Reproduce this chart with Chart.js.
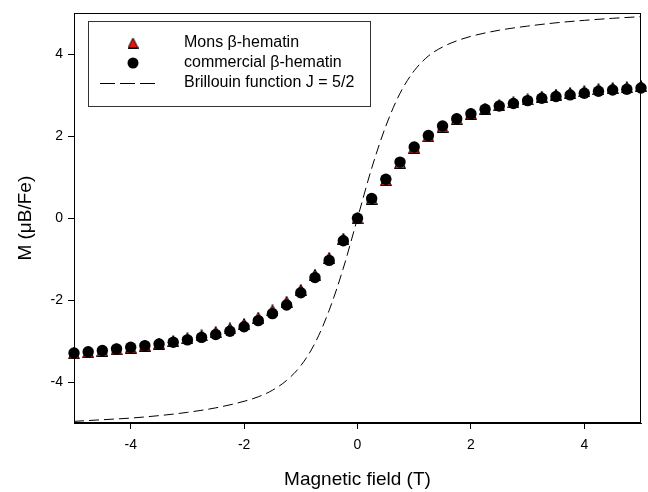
<!DOCTYPE html>
<html><head><meta charset="utf-8">
<script src="https://cdn.jsdelivr.net/npm/chart.js@4.4.1/dist/chart.umd.min.js"></script>
<style>html,body{margin:0;padding:0;background:#fff}canvas{display:block}</style>
</head><body>
<canvas id="c" width="648" height="492"></canvas>
<script>
// ---- data ----
const fieldT = [-5,-4.75,-4.5,-4.25,-4,-3.75,-3.5,-3.25,-3,-2.75,-2.5,-2.25,-2,-1.75,-1.5,-1.25,-1,-0.75,-0.5,-0.25,0,
  0.25,0.5,0.75,1,1.25,1.5,1.75,2,2.25,2.5,2.75,3,3.25,3.5,3.75,4,4.25,4.5,4.75,5];
const commercialM = [-3.29,-3.26,-3.23,-3.19,-3.15,-3.11,-3.07,-3.03,-2.97,-2.91,-2.84,-2.76,-2.65,-2.50,-2.33,-2.12,-1.82,-1.45,-1.03,-0.55,0.00,
  0.48,0.95,1.37,1.74,2.02,2.25,2.43,2.55,2.66,2.74,2.80,2.87,2.93,2.97,3.01,3.05,3.10,3.13,3.15,3.18];
const monsM = [-3.30,-3.27,-3.24,-3.20,-3.16,-3.11,-3.06,-3.00,-2.93,-2.86,-2.78,-2.69,-2.58,-2.43,-2.25,-2.04,-1.75,-1.38,-0.97,-0.50,0.00,
  0.47,0.93,1.35,1.72,2.00,2.23,2.42,2.55,2.67,2.76,2.83,2.90,2.97,3.02,3.06,3.10,3.15,3.18,3.20,3.23];
const brillField = [-5,-4.5,-4,-3.5,-3,-2.5,-2,-1.75,-1.5,-1.25,-1,-0.75,-0.5,-0.25,0,0.25,0.5,0.75,1,1.25,1.5,1.75,2,2.5,3,3.5,4,4.5,5];
const brillM = [-4.96,-4.92,-4.88,-4.82,-4.74,-4.63,-4.47,-4.36,-4.20,-3.96,-3.60,-3.05,-2.25,-1.22,0.00,
  1.22,2.25,3.05,3.60,3.96,4.18,4.33,4.44,4.59,4.69,4.77,4.83,4.88,4.92];
const xTicks = [-4,-2,0,2,4];
const yTicks = [-4,-2,0,2,4];
const seriesLabels = ['Mons \u03B2-hematin','commercial \u03B2-hematin','Brillouin function J = 5/2'];
const xTitle = 'Magnetic field (T)';
const yTitle = 'M (\u03BCB/Fe)';

const FONT = "'Liberation Sans', Arial, sans-serif";

function makeTriangle(size){
  const c = document.createElement('canvas'); c.width = size; c.height = size;
  const g = c.getContext('2d');
  g.beginPath(); g.moveTo(size/2, 0.5); g.lineTo(size-0.5, size-0.5); g.lineTo(0.5, size-0.5); g.closePath();
  g.fillStyle = '#e8140c'; g.fill(); g.strokeStyle = '#000'; g.lineWidth = 1; g.stroke();
  return c;
}
const triImg = makeTriangle(12);
const triLegend = makeTriangle(11);

const toXY = (xs, ys) => xs.map((x, i) => ({x: x, y: ys[i]}));

const framePlugin = {
  id: 'frame',
  afterDatasetsDraw(chart){
    const {ctx, chartArea: a} = chart;
    ctx.save(); ctx.strokeStyle = '#000'; ctx.lineWidth = 1;
    ctx.strokeRect(Math.round(a.left)+0.5, Math.round(a.top)+0.5, Math.round(a.right-a.left)-1, Math.round(a.bottom-a.top)-1);
    ctx.restore();
  }
};

const legendPlugin = {
  id: 'boxLegend',
  afterDraw(chart){
    const ctx = chart.ctx;
    ctx.save();
    ctx.fillStyle = '#fff';
    ctx.fillRect(88.5, 21.5, 282, 85);
    ctx.strokeStyle = '#333'; ctx.lineWidth = 1;
    ctx.strokeRect(88.5, 21.5, 282, 85);
    const rows = [43, 63, 83];
    // triangle
    ctx.drawImage(triLegend, 133 - 5.5, rows[0] - 5.5);
    // circle
    ctx.beginPath(); ctx.arc(133, rows[1], 5.5, 0, Math.PI*2); ctx.fillStyle = '#000'; ctx.fill();
    // dashed line
    ctx.beginPath(); ctx.setLineDash([15, 5]); ctx.strokeStyle = '#000'; ctx.lineWidth = 1;
    ctx.moveTo(100, rows[2] + 0.5); ctx.lineTo(160, rows[2] + 0.5); ctx.stroke(); ctx.setLineDash([]);
    ctx.fillStyle = '#000'; ctx.font = '16px ' + FONT; ctx.textBaseline = 'middle'; ctx.textAlign = 'left';
    seriesLabels.forEach((t, i) => ctx.fillText(t, 184, rows[i]));
    ctx.restore();
  }
};

new Chart(document.getElementById('c'), {
  type: 'scatter',
  data: {
    datasets: [
      {label: seriesLabels[0], data: toXY(fieldT, monsM), pointStyle: triImg, pointRadius: 6, showLine: false, order: 1, clip: false},
      {label: seriesLabels[1], data: toXY(fieldT, commercialM), pointStyle: 'circle', pointRadius: 5.7,
        backgroundColor: '#000', borderColor: '#000', borderWidth: 0, showLine: false, order: 0, clip: false},
      {label: seriesLabels[2], data: toXY(brillField, brillM), showLine: true, pointRadius: 0, borderColor: '#000',
        borderWidth: 1, borderDash: [10, 5], cubicInterpolationMode: 'monotone', fill: false, order: 2}
    ]
  },
  options: {
    responsive: false, animation: false, devicePixelRatio: 1,
    layout: {padding: {top: 10, right: 2, left: 0, bottom: 0}},
    plugins: {legend: {display: false}, tooltip: {enabled: false}},
    scales: {
      x: {
        type: 'linear', min: -5, max: 5,
        afterBuildTicks: s => { s.ticks = xTicks.map(v => ({value: v})); },
        afterFit: s => { s.height = 69; },
        grid: {display: true, drawOnChartArea: false, drawTicks: true, tickLength: 6, color: '#000'},
        border: {display: true, color: '#000'},
        ticks: {font: {family: FONT, size: 14}, color: '#000', padding: 8, maxRotation: 0},
        title: {display: true, text: xTitle, font: {family: FONT, size: 19}, color: '#000', padding: {top: 0, bottom: 1}}
      },
      y: {
        type: 'linear', min: -5, max: 5,
        afterBuildTicks: s => { s.ticks = yTicks.map(v => ({value: v})); },
        afterFit: s => { s.width = 74; },
        grid: {display: true, drawOnChartArea: false, drawTicks: true, tickLength: 6, color: '#000'},
        border: {display: true, color: '#000'},
        ticks: {font: {family: FONT, size: 14}, color: '#000', padding: 5},
        title: {display: true, text: yTitle, font: {family: FONT, size: 19}, color: '#000', padding: {top: 14, bottom: 0}}
      }
    }
  },
  plugins: [framePlugin, legendPlugin]
});
</script>
</body></html>
